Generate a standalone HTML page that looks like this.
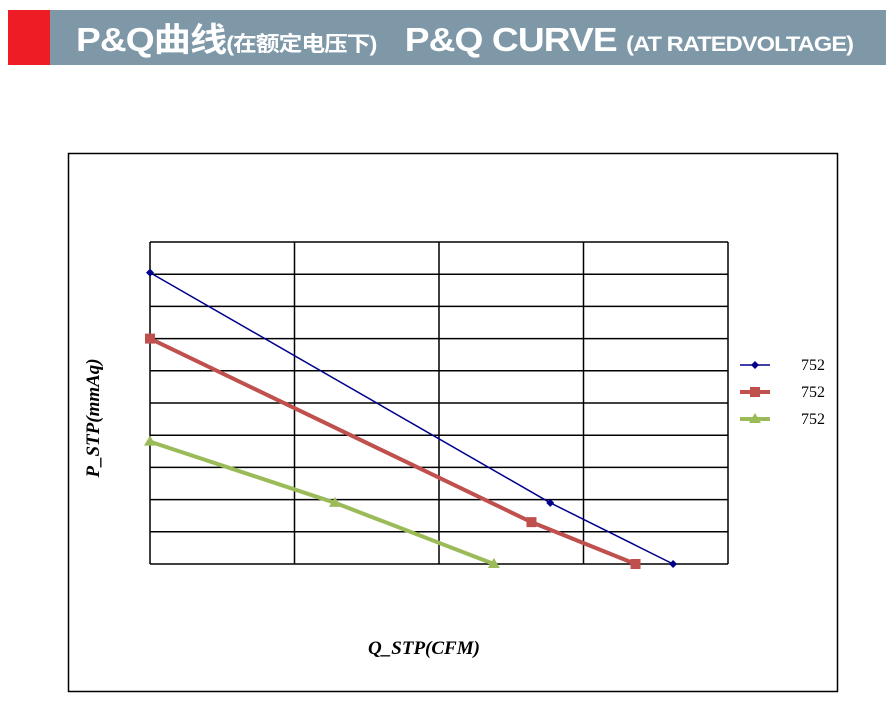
<!DOCTYPE html>
<html><head><meta charset="utf-8"><style>
body{margin:0;width:896px;height:723px;background:#fff;overflow:hidden;position:relative;font-family:"Liberation Sans","Noto Sans CJK SC",sans-serif}
#hdr{position:absolute;left:50px;top:10px;width:836px;height:55px;background:#7f98a8}
#red{position:absolute;left:8px;top:10px;width:42px;height:55px;background:#ee1c25}
#title{position:absolute;left:76px;top:12px;height:55px;line-height:55px;color:#fff;font-weight:bold;font-size:33px;white-space:nowrap;letter-spacing:-0.8px;transform-origin:0 50%;transform:scaleX(1.125)}
#title small{font-size:21px}
</style></head><body>
<div id="red"></div>
<div id="hdr"></div>
<div id="title">P&amp;Q曲线<small>(在额定电压下)</small>&nbsp;&nbsp; P&amp;Q CURVE <small>(AT RATEDVOLTAGE)</small></div>
<svg id="chart" width="896" height="723" style="position:absolute;left:0;top:0"></svg>
<script>
const xMax = 4, yMax = 10;
const xTicks = [0,1,2,3,4];
const yTicks = [0,1,2,3,4,5,6,7,8,9,10];
const seriesNames = ["752","752","752"];
const blueX = [0, 2.77, 3.62], blueY = [9.05, 1.9, 0];
const redX = [0, 2.64, 3.36], redY = [7.0, 1.3, 0];
const greenX = [0, 1.28, 2.38], greenY = [3.8, 1.9, 0];
const NS="http://www.w3.org/2000/svg", svg=document.getElementById('chart');
const L=150,R=728,T=242,B=564;
const sx=v=>L+v/xMax*(R-L), sy=v=>B-v/yMax*(B-T);
function mk(t,a,p){const e=document.createElementNS(NS,t);for(const k in a)e.setAttribute(k,a[k]);(p||svg).appendChild(e);return e;}
const frame=mk('rect',{x:68.5,y:153.5,width:769,height:538,fill:'none',stroke:'#000','stroke-width':1.5});


yTicks.forEach(v=>{const l=mk('line',{x1:L,x2:R,y1:sy(v),y2:sy(v),stroke:'#000','stroke-width':1.5});

});
xTicks.forEach(v=>{const l=mk('line',{x1:sx(v),x2:sx(v),y1:T,y2:B,stroke:'#000','stroke-width':1.5});

});
const series=[{x:blueX,y:blueY,c:'#00008b',w:1.5,m:'d'},{x:redX,y:redY,c:'#c0504d',w:4,m:'s'},{x:greenX,y:greenY,c:'#9bbb59',w:4,m:'t'}];
function marker(m,x,y,c,g){
 if(m==='d')return mk('path',{d:`M${x} ${y-4}L${x+4} ${y}L${x} ${y+4}L${x-4} ${y}Z`,fill:c},g);
 if(m==='s')return mk('rect',{x:x-5,y:y-5,width:10,height:10,fill:c},g);
 return mk('path',{d:`M${x} ${y-6}L${x+6} ${y+4}L${x-6} ${y+4}Z`,fill:c},g);
}
series.forEach((s,i)=>{
 const g=mk('g',{});
 
 
 mk('polyline',{points:s.x.map((v,j)=>sx(v)+','+sy(s.y[j])).join(' '),fill:'none',stroke:s.c,'stroke-width':s.w},g);
 s.x.forEach((v,j)=>{const p=marker(s.m,sx(v),sy(s.y[j]),s.c,g);
 
 });
 const lg=mk('g',{});
 
 
 const ly=365+i*27;
 mk('line',{x1:740,x2:770,y1:ly,y2:ly,stroke:s.c,'stroke-width':s.w},lg);
 marker(s.m,755,ly,s.c,lg);
 const t=mk('text',{x:801,y:ly+5,'font-family':'Liberation Serif, serif','font-size':16,fill:'#000'},lg);t.textContent=seriesNames[i];
});
const xt=mk('text',{x:424,y:654,'text-anchor':'middle','font-family':'Liberation Serif, serif','font-size':19,'font-weight':'bold','font-style':'italic'});
xt.textContent='Q_STP(CFM)';


const yt=mk('text',{x:0,y:0,transform:'translate(99,418) rotate(-90)','text-anchor':'middle','font-family':'Liberation Serif, serif','font-size':19,'font-weight':'bold','font-style':'italic'});
yt.textContent='P_STP(mmAq)';


</script>
</body></html>
